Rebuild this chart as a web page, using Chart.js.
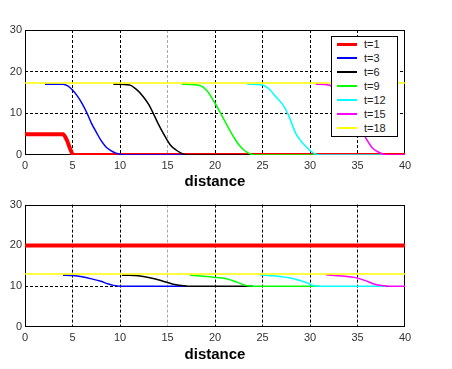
<!DOCTYPE html>
<html>
<head>
<meta charset="utf-8">
<script src="https://cdn.jsdelivr.net/npm/chart.js@4.4.0/dist/chart.umd.min.js"></script>
<style>
    body { margin: 0; background: #fff; width: 452px; height: 369px; position: relative; overflow: hidden;
           font-family: 'Liberation Sans', Arial, sans-serif; }
    canvas { position: absolute; left: 0; }
    #top-chart { top: 0; }
    #bottom-chart { top: 195px; }
    #legend { position: absolute; left: 331px; top: 36px; width: 67px; height: 101px; box-sizing: border-box;
              border: 1px solid #000; background: #fff; }
    .legend-row { position: relative; height: 14px; font-size: 11px; color: #222; }
    .legend-row .swatch { position: absolute; left: 5px; width: 20px; }
    .legend-row span { position: absolute; left: 32px; top: 0; line-height: 14px; }
</style>
</head>
<body>
<canvas id="top-chart" width="452" height="195"></canvas>
<canvas id="bottom-chart" width="452" height="174"></canvas>
<div id="legend"></div>
<script>
// Series (one per time step)
const seriesLabels = ['t=1', 't=3', 't=6', 't=9', 't=12', 't=15', 't=18'];
const seriesColors = ['#ff0000', '#0000ff', '#000000', '#00ff00', '#00ffff', '#ff00ff', '#ffff00'];

// Top panel values
const topX1 = [0, 4, 4.4, 4.8, 5.1, 40];
const topY1 = [5, 5, 3.6, 1.2, 0, 0];
const topX3 = [2.1, 4, 4.5, 5, 5.5, 6, 6.5, 7, 7.5, 8, 8.5, 9, 9.5, 10, 10.5, 17];
const topY3 = [17, 17, 16.6, 15.6, 14.2, 12.4, 10.2, 7.6, 5.5, 3.5, 2.0, 1.1, 0.5, 0.2, 0, 0];
const topX6 = [9.3, 11, 11.7, 12.45, 13, 13.5, 14, 14.56, 15.3, 15.9, 16.5, 17, 24];
const topY6 = [17, 16.8, 15.8, 14, 12.2, 10, 7.6, 5.2, 2.4, 1.2, 0.4, 0, 0];
const topX9 = [16.5, 18.4, 19.2, 19.8, 20.6, 21.3, 22, 22.6, 23.2, 23.8, 24.3, 31];
const topY9 = [17, 16.7, 15.3, 13.2, 10, 7, 4.2, 2.2, 0.9, 0.2, 0, 0];
const topX12 = [23.4, 25, 25.8, 26.4, 27.1, 27.65, 28.5, 29.1, 29.6, 30.1, 30.6, 31, 38];
const topY12 = [17, 16.8, 15.6, 14, 12.2, 10, 5.2, 3.2, 2, 0.9, 0.2, 0, 0];
const topX15 = [30.6, 32, 32.8, 33.4, 34, 34.6, 35.4, 35.9, 36.6, 37.3, 37.8, 38.2, 40];
const topY15 = [17, 16.8, 15.5, 14, 12.2, 10, 6, 4, 1.6, 0.6, 0.1, 0, 0];
const topX18 = [0, 40];
const topY18 = [17.3, 17.3];

// Bottom panel values
const botX1 = [0, 40];
const botY1 = [20, 20];
const botX3 = [4, 5, 6, 7, 8, 8.7, 9.3, 10, 17];
const botY3 = [12.7, 12.6, 12.3, 11.8, 11.2, 10.6, 10.2, 10, 10];
const botX6 = [10.2, 12.1, 13.5, 14.7, 15.6, 16.8, 17.3, 24];
const botY6 = [12.7, 12.5, 11.9, 11.1, 10.5, 10.1, 10, 10];
const botX9 = [17.4, 19.8, 21.2, 22.3, 23.4, 24, 31];
const botY9 = [12.7, 12.2, 11.8, 11.0, 10.1, 10, 10];
const botX12 = [24.7, 26.4, 28.2, 29.6, 30.4, 30.8, 38];
const botY12 = [12.8, 12.5, 11.9, 10.9, 10.1, 10, 10];
const botX15 = [31.7, 33.4, 34.8, 35.9, 36.8, 37.8, 38.3, 40];
const botY15 = [12.8, 12.5, 12.1, 11.3, 10.5, 10.1, 10, 10];
const botX18 = [0, 40];
const botY18 = [13, 13];

const xTicksStep = 5;
const yTicksStep = 10;

const FONT = "'Liberation Sans', Arial, sans-serif";

function buildDatasets(xs, ys) {
    return seriesLabels.map((label, i) => ({
        label,
        data: xs[i].map((x, j) => ({ x, y: ys[i][j] })),
        borderColor: seriesColors[i],
        backgroundColor: seriesColors[i],
        borderWidth: i === 0 ? 4 : 1.5,
        pointRadius: 0,
        cubicInterpolationMode: 'monotone',
        order: -i   // later time steps drawn on top
    }));
}

// solid frame around the plot area
const framePlugin = {
    id: 'frame',
    beforeDatasetsDraw(chart) {
        const { ctx, chartArea: a } = chart;
        const l = Math.round(a.left) + 0.5, t = Math.round(a.top) + 0.5;
        const r = Math.round(a.right) - 0.5, b = Math.round(a.bottom) - 0.5;
        ctx.save();
        ctx.strokeStyle = '#000';
        ctx.lineWidth = 1;
        ctx.strokeRect(l, t, r - l, b - t);
        ctx.restore();
    }
};

// grid colour: hide lines on the frame edges, x=15 looks lighter in the original
function gridColor(min, max) {
    return c => {
        if (!c.tick) return '#000';
        const v = c.tick.value;
        if (v === min || v === max) return 'rgba(0,0,0,0)';
        return v === 15 && max === 40 ? '#aaa' : '#000';
    };
}

function makeOptions(padTop, axisHeight, titlePad) {
    return {
        responsive: false,
        animation: false,
        layout: { padding: { top: padTop, right: 47, left: 0, bottom: 0 } },
        plugins: { legend: { display: false }, tooltip: { enabled: false } },
        scales: {
            x: {
                type: 'linear', min: 0, max: 40,
                ticks: { stepSize: xTicksStep, padding: 4, color: '#333', font: { family: FONT, size: 11 } },
                grid: { drawTicks: false, color: gridColor(0, 40) },
                border: { display: false, dash: [3, 2] },
                title: {
                    display: true, text: 'distance', color: '#000',
                    font: { family: FONT, size: 15, weight: 'bold' },
                    padding: { top: 0, bottom: titlePad }
                },
                afterFit: s => { s.height = axisHeight; }
            },
            y: {
                min: 0, max: 30,
                ticks: { stepSize: yTicksStep, padding: 3, color: '#333', font: { family: FONT, size: 11 } },
                grid: { drawTicks: false, color: gridColor(0, 30) },
                border: { display: false, dash: [3, 2] },
                afterFit: s => { s.width = 25; }
            }
        }
    };
}

new Chart(document.getElementById('top-chart'), {
    type: 'line',
    data: {
        datasets: buildDatasets(
            [topX1, topX3, topX6, topX9, topX12, topX15, topX18],
            [topY1, topY3, topY6, topY9, topY12, topY15, topY18])
    },
    options: makeOptions(30, 40, 4),
    plugins: [framePlugin]
});

new Chart(document.getElementById('bottom-chart'), {
    type: 'line',
    data: {
        datasets: buildDatasets(
            [botX1, botX3, botX6, botX9, botX12, botX15, botX18],
            [botY1, botY3, botY6, botY9, botY12, botY15, botY18])
    },
    options: makeOptions(7, 42, 5),
    plugins: [framePlugin]
});

// legend box in the top panel
const legend = document.getElementById('legend');
seriesLabels.forEach((label, i) => {
    const row = document.createElement('div');
    row.className = 'legend-row';
    const h = i === 0 ? 3 : 2;
    row.innerHTML = `<div class="swatch" style="top:${7 - h / 2}px;height:${h}px;background:${seriesColors[i]}"></div>
                     <span>${label}</span>`;
    legend.appendChild(row);
});
</script>
</body>
</html>
